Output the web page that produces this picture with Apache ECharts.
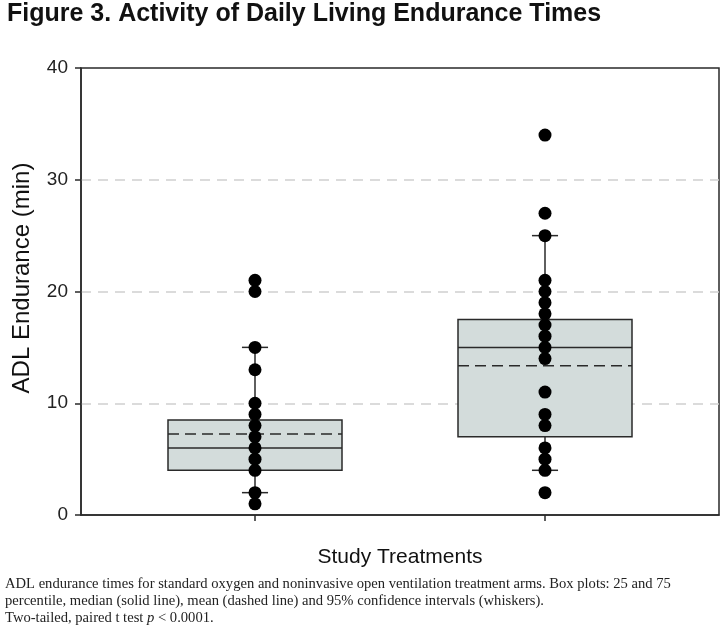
<!DOCTYPE html>
<html>
<head>
<meta charset="utf-8">
<script src="https://cdn.jsdelivr.net/npm/echarts@6/dist/echarts.min.js"></script>
<style>
html,body{margin:0;padding:0;background:#fff;}
#chart{width:728px;height:628px;}
</style>
</head>
<body>
<div id="chart"></div>
<script>
// ---- data ----
const groupPositions = [1, 2];
const q1 = [4, 7];
const q3 = [8.5, 17.5];
const medians = [6, 15];
const means = [7.25, 13.35];
const whiskerLow = [2, 4];
const whiskerHigh = [15, 25];
const pointsArm1 = [21, 20, 15, 13, 10, 9, 8, 7, 6, 5, 4, 2, 1];
const pointsArm2 = [34, 27, 25, 21, 20, 19, 18, 17, 16, 15, 14, 11, 9, 8, 6, 5, 4, 2];
const yTicks = [0, 10, 20, 30, 40];

const titleText = 'Figure 3. Activity of Daily Living Endurance Times';
const yName = 'ADL Endurance (min)';
const xName = 'Study Treatments';
const captionLines = [
  'ADL endurance times for standard oxygen and noninvasive open ventilation treatment arms. Box plots: 25 and 75',
  'percentile, median (solid line), mean (dashed line) and 95% confidence intervals (whiskers).'
];

// ---- build ----
const boxData = groupPositions.map((x, i) => [x, q1[i], q3[i], medians[i], means[i], whiskerLow[i], whiskerHigh[i]]);
const scatter1 = pointsArm1.map(v => [groupPositions[0], v]);
const scatter2 = pointsArm2.map(v => [groupPositions[1], v]);

const chart = echarts.init(document.getElementById('chart'), null, {renderer: 'canvas'});
const stroke = '#2a2a2a';

function renderBox(params, api) {
  const x = api.value(0);
  const c = v => api.coord([x, v]);
  const half = api.size([0.3, 0])[0];
  const capHalf = api.size([0.045, 0])[0];
  const pQ1 = c(api.value(1)), pQ3 = c(api.value(2)), pMed = c(api.value(3)),
        pMean = c(api.value(4)), pLo = c(api.value(5)), pHi = c(api.value(6));
  const cx = pQ1[0];
  const ls = {stroke: stroke, lineWidth: 1.5};
  return {
    type: 'group',
    children: [
      {type: 'line', shape: {x1: cx, y1: pQ3[1], x2: cx, y2: pHi[1]}, style: ls},
      {type: 'line', shape: {x1: cx, y1: pLo[1], x2: cx, y2: pQ1[1]}, style: ls},
      {type: 'line', shape: {x1: cx - capHalf, y1: pHi[1], x2: cx + capHalf, y2: pHi[1]}, style: ls},
      {type: 'line', shape: {x1: cx - capHalf, y1: pLo[1], x2: cx + capHalf, y2: pLo[1]}, style: ls},
      {type: 'rect', shape: {x: cx - half, y: pQ3[1], width: 2 * half, height: pQ1[1] - pQ3[1]},
        style: {fill: '#d3dcdb', stroke: stroke, lineWidth: 1.5}},
      {type: 'line', shape: {x1: cx - half, y1: pMed[1], x2: cx + half, y2: pMed[1]}, style: ls},
      {type: 'line', shape: {x1: cx - half, y1: pMean[1], x2: cx + half, y2: pMean[1]},
        style: {stroke: stroke, lineWidth: 1.5, lineDash: [11, 6]}}
    ]
  };
}

const sansFont = "'Liberation Sans', Arial, sans-serif";
const serifFont = "'Liberation Serif', 'Times New Roman', serif";

const option = {
  backgroundColor: '#fff',
  animation: false,
  grid: {left: 81, right: 9, top: 68, bottom: 113, show: true, borderColor: stroke, borderWidth: 1.5, backgroundColor: 'transparent'},
  xAxis: {
    type: 'value', min: 0.4, max: 2.6,
    axisLine: {show: true, onZero: false, lineStyle: {color: stroke, width: 1.5}},
    axisTick: {show: true, inside: false, length: 6, customValues: groupPositions, lineStyle: {color: stroke, width: 1.5}},
    axisLabel: {show: false},
    splitLine: {show: false}
  },
  yAxis: {
    type: 'value', min: yTicks[0], max: yTicks[yTicks.length - 1], interval: 10,
    axisLine: {show: true, lineStyle: {color: stroke, width: 1.5}},
    axisTick: {show: true, inside: false, length: 6, lineStyle: {color: stroke, width: 1.5}},
    axisLabel: {fontSize: 19, color: '#222', fontFamily: sansFont, margin: 13},
    splitLine: {show: true, lineStyle: {color: ['transparent', '#cfcfcf', '#cfcfcf', '#cfcfcf', 'transparent'], width: 1.5, type: [10, 7]}}
  },
  series: [
    {type: 'custom', renderItem: renderBox, data: boxData, encode: {x: 0, y: [1, 2, 3, 4, 5, 6]}, z: 2, silent: true},
    {type: 'scatter', data: scatter1, symbol: 'circle', symbolSize: 13, itemStyle: {color: '#000', opacity: 1}, z: 3},
    {type: 'scatter', data: scatter2, symbol: 'circle', symbolSize: 13, itemStyle: {color: '#000', opacity: 1}, z: 3}
  ],
  graphic: [
    {type: 'text', left: 7, top: 2, style: {text: titleText, font: "bold 25px " + sansFont, fill: '#111'}},
    {type: 'text', x: 22, y: 278, rotation: Math.PI / 2,
      style: {text: yName, font: "24px " + sansFont, fill: '#111', align: 'center', verticalAlign: 'middle'}},
    {type: 'text', x: 400, y: 557,
      style: {text: xName, font: "21px " + sansFont, fill: '#111', align: 'center', verticalAlign: 'middle'}},
    {type: 'text', x: 5, y: 584, style: {text: captionLines[0], font: "14.6px " + serifFont, fill: '#222', verticalAlign: 'middle'}},
    {type: 'text', x: 5, y: 601, style: {text: captionLines[1], font: "14.6px " + serifFont, fill: '#222', verticalAlign: 'middle'}},
    {type: 'text', x: 5, y: 618, style: {
      text: 'Two-tailed, paired t test {i|p} < 0.0001.',
      font: "14.6px " + serifFont, fill: '#222', verticalAlign: 'middle',
      rich: {i: {fontStyle: 'italic', fontSize: 14.6, fontFamily: serifFont, fill: '#222'}}
    }}
  ]
};
chart.setOption(option);
</script>
</body>
</html>
